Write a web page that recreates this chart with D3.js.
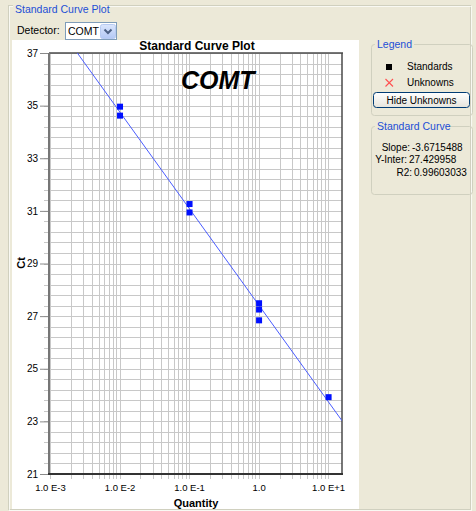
<!DOCTYPE html>
<html>
<head>
<meta charset="utf-8">
<script src="https://cdn.jsdelivr.net/npm/d3@7"></script>
<style>
  html, body { margin: 0; padding: 0; background: #ECE9D8; }
  svg { display: block; }
  text { font-family: "Liberation Sans", Arial, sans-serif; }
</style>
</head>
<body>
<svg id="chart" width="476" height="511"></svg>
<script>
// Standard curve data (Ct vs. quantity) for detector COMT
const quantities = [0.01, 0.01, 0.1, 0.1, 1, 1, 1, 10];
const ctValues   = [34.96, 34.62, 31.26, 30.94, 27.49, 27.25, 26.84, 23.92];

// Fit reported for the curve
const slope = -3.6715488;
const yInter = 27.429958;
const r2 = 0.99603033;

const xTickValues = [1e-3, 1e-2, 1e-1, 1, 10];
const xTickLabels = ["1.0 E-3", "1.0 E-2", "1.0 E-1", "1.0", "1.0 E+1"];
const yTickValues = [21, 23, 25, 27, 29, 31, 33, 35, 37];
const detectorName = "COMT";

const svg = d3.select("#chart");
const defs = svg.append("defs");

// ---------- window chrome ----------
const etch = "#d0d0bf";
// outer group box
svg.append("rect").attr("x", 8.5).attr("y", 5.5).attr("width", 462).attr("height", 504)
  .attr("fill", "none").attr("stroke", etch);
svg.append("rect").attr("x", 9.5).attr("y", 6.5).attr("width", 462).attr("height", 504)
  .attr("fill", "none").attr("stroke", "#ffffff").attr("stroke-opacity", 0.7);
svg.append("rect").attr("x", 13).attr("y", 0).attr("width", 92).attr("height", 14).attr("fill", "#ECE9D8");
svg.append("text").attr("x", 15).attr("y", 13).attr("font-size", 10.5).attr("fill", "#1c4fd6")
  .text("Standard Curve Plot");

// detector selector
svg.append("text").attr("x", 17).attr("y", 34).attr("font-size", 10.5).attr("fill", "#000").text("Detector:");
svg.append("rect").attr("x", 65.5).attr("y", 22.5).attr("width", 51).attr("height", 17)
  .attr("fill", "#fff").attr("stroke", "#7f9db9");
svg.append("text").attr("x", 68).attr("y", 35).attr("font-size", 10.5).attr("fill", "#000").text(detectorName);
const dd = svg.append("g").attr("transform", "translate(100,24)");
const ddGrad = defs.append("linearGradient").attr("id", "ddg")
  .attr("x1", 0).attr("y1", 0).attr("x2", 0).attr("y2", 1);
ddGrad.append("stop").attr("offset", 0).attr("stop-color", "#dbe6fc");
ddGrad.append("stop").attr("offset", 1).attr("stop-color", "#b3c8f5");
dd.append("rect").attr("x", 0.5).attr("y", 0.5).attr("width", 15).attr("height", 14).attr("rx", 2)
  .attr("fill", "url(#ddg)").attr("stroke", "#b8cbf2");
dd.append("path").attr("d", "M4.5,5.5 L8,9 L11.5,5.5").attr("fill", "none")
  .attr("stroke", "#4d6185").attr("stroke-width", 2);

// white chart panel
svg.append("rect").attr("x", 12).attr("y", 40).attr("width", 347).attr("height", 469).attr("fill", "#ffffff");

// ---------- plot ----------
const plot = { left: 50, right: 342, top: 53, bottom: 474 };

const x = d3.scaleLog().domain([1e-3, Math.pow(10, 1.2)]).range([plot.left, plot.right]);
const y = d3.scaleLinear().domain([21, 37]).range([plot.bottom, plot.top]);

// vertical grid: 1..9 within each decade
const xGrid = [];
for (let k = -3; k <= 1; k++) {
  for (let m = 1; m <= 9; m++) {
    const v = m * Math.pow(10, k);
    if (v <= x.domain()[1] * 1.0001) xGrid.push(v);
  }
}
// horizontal grid every 0.4 Ct
const yGrid = d3.range(0, 41).map(i => 21 + i * 0.4);

const grid = svg.append("g").attr("shape-rendering", "crispEdges");
grid.selectAll("line.vx").data(xGrid).join("line")
  .attr("x1", d => Math.round(x(d)) + 0.5).attr("x2", d => Math.round(x(d)) + 0.5)
  .attr("y1", plot.top).attr("y2", plot.bottom + 5)
  .attr("stroke", "#c8c8c8");
grid.selectAll("line.hy").data(yGrid).join("line")
  .attr("y1", d => Math.round(y(d)) + 0.5).attr("y2", d => Math.round(y(d)) + 0.5)
  .attr("x1", plot.left - 6).attr("x2", plot.right)
  .attr("stroke", "#c8c8c8");

// y axis
const yAxis = d3.axisLeft(y).tickValues(yTickValues).tickSize(10).tickPadding(2).tickFormat(d3.format("d"));
const gy = svg.append("g").attr("transform", `translate(${plot.left},0)`).call(yAxis);
gy.select(".domain").remove();
gy.selectAll(".tick line").attr("stroke", "#8a8a8a");
gy.selectAll(".tick text").attr("font-size", 10).attr("fill", "#000")
  .attr("font-family", "Liberation Sans, Arial, sans-serif");

// x axis labels
const xAxis = d3.axisBottom(x).tickValues(xTickValues).tickSize(0).tickPadding(10)
  .tickFormat((d, i) => xTickLabels[i]);
const gx = svg.append("g").attr("transform", `translate(0,${plot.bottom})`).call(xAxis);
gx.select(".domain").remove();
gx.selectAll(".tick text").attr("font-size", 9.5).attr("fill", "#000")
  .attr("font-family", "Liberation Sans, Arial, sans-serif");

// frame
svg.append("line").attr("x1", plot.left - 1).attr("x2", plot.right + 1)
  .attr("y1", plot.top).attr("y2", plot.top).attr("stroke", "#4a4a4a").attr("stroke-width", 1.5);
svg.append("line").attr("x1", plot.right).attr("x2", plot.right)
  .attr("y1", plot.top).attr("y2", plot.bottom).attr("stroke", "#4a4a4a").attr("stroke-width", 1.5);
svg.append("line").attr("x1", plot.left - 1).attr("x2", plot.left - 1)
  .attr("y1", plot.top).attr("y2", plot.bottom).attr("stroke", "#767676").attr("stroke-width", 2);
svg.append("line").attr("x1", plot.left - 2).attr("x2", plot.right + 1)
  .attr("y1", plot.bottom).attr("y2", plot.bottom).attr("stroke", "#333").attr("stroke-width", 2);

// regression line, clipped to the plot area
defs.append("clipPath").attr("id", "plotClip")
  .append("rect").attr("x", plot.left).attr("y", plot.top)
  .attr("width", plot.right - plot.left).attr("height", plot.bottom - plot.top);
const fitX = x.domain();
svg.append("line").attr("clip-path", "url(#plotClip)")
  .attr("x1", x(fitX[0])).attr("y1", y(slope * Math.log10(fitX[0]) + yInter))
  .attr("x2", x(fitX[1])).attr("y2", y(slope * Math.log10(fitX[1]) + yInter))
  .attr("stroke", "#4a5cff").attr("stroke-width", 1);

// standards
const pts = quantities.map((q, i) => ({ q, ct: ctValues[i] }));
svg.append("g").selectAll("rect").data(pts).join("rect")
  .attr("x", d => x(d.q) - 2.5).attr("y", d => y(d.ct) - 3)
  .attr("width", 6).attr("height", 6).attr("fill", "#0010ff");

// titles
svg.append("text").attr("x", 197).attr("y", 50).attr("text-anchor", "middle")
  .attr("font-size", 12).attr("font-weight", "bold").text("Standard Curve Plot");
svg.append("text").attr("x", 181).attr("y", 89)
  .attr("font-family", "Lato, 'Liberation Sans', sans-serif")
  .attr("font-size", 25).attr("font-weight", "bold").attr("font-style", "italic").text(detectorName);
svg.append("text").attr("x", 196).attr("y", 507).attr("text-anchor", "middle")
  .attr("font-size", 11).attr("font-weight", "bold").text("Quantity");
svg.append("text").attr("transform", "translate(25,263) rotate(-90)").attr("text-anchor", "middle")
  .attr("font-size", 11).attr("font-weight", "bold").text("Ct");

// ---------- legend box ----------
function groupBox(x0, y0, w, h, label, labelW) {
  svg.append("rect").attr("x", x0 + 0.5).attr("y", y0 + 0.5).attr("width", w).attr("height", h)
    .attr("rx", 3).attr("fill", "none").attr("stroke", etch);
  svg.append("rect").attr("x", x0 + 4).attr("y", y0 - 6).attr("width", labelW).attr("height", 12)
    .attr("fill", "#ECE9D8");
  svg.append("text").attr("x", x0 + 6).attr("y", y0 + 4).attr("font-size", 10.5)
    .attr("fill", "#1c4fd6").text(label);
}
groupBox(371, 44, 101, 71, "Legend", 39);
svg.append("rect").attr("x", 386).attr("y", 64).attr("width", 6).attr("height", 6).attr("fill", "#000");
svg.append("text").attr("x", 407).attr("y", 70).attr("font-size", 10).text("Standards");
svg.append("path").attr("d", "M385.5,79 L393,86.5 M393,79 L385.5,86.5")
  .attr("stroke", "#ff5050").attr("stroke-width", 1.1).attr("fill", "none");
svg.append("text").attr("x", 407).attr("y", 86).attr("font-size", 10).text("Unknowns");

const btnGrad = defs.append("linearGradient").attr("id", "btng")
  .attr("x1", 0).attr("y1", 0).attr("x2", 0).attr("y2", 1);
btnGrad.append("stop").attr("offset", 0).attr("stop-color", "#ffffff");
btnGrad.append("stop").attr("offset", 1).attr("stop-color", "#e6e4dc");
svg.append("rect").attr("x", 373.5).attr("y", 92.5).attr("width", 96).attr("height", 15).attr("rx", 3)
  .attr("fill", "url(#btng)").attr("stroke", "#003c74");
svg.append("text").attr("x", 421.5).attr("y", 104).attr("text-anchor", "middle")
  .attr("font-size", 10).text("Hide Unknowns");

// ---------- standard curve box ----------
groupBox(371, 126, 101, 68, "Standard Curve", 70);
const fitFmt = v => String(v);
svg.append("text").attr("x", 410).attr("y", 151).attr("text-anchor", "end").attr("font-size", 10).text("Slope:");
svg.append("text").attr("x", 412).attr("y", 151).attr("font-size", 10).text(fitFmt(slope));
svg.append("text").attr("x", 407).attr("y", 163).attr("text-anchor", "end").attr("font-size", 10).text("Y-Inter:");
svg.append("text").attr("x", 409).attr("y", 163).attr("font-size", 10).text(fitFmt(yInter));
svg.append("text").attr("x", 412).attr("y", 176).attr("text-anchor", "end").attr("font-size", 10).text("R2:");
svg.append("text").attr("x", 414).attr("y", 176).attr("font-size", 10).text(fitFmt(r2));
</script>
</body>
</html>
